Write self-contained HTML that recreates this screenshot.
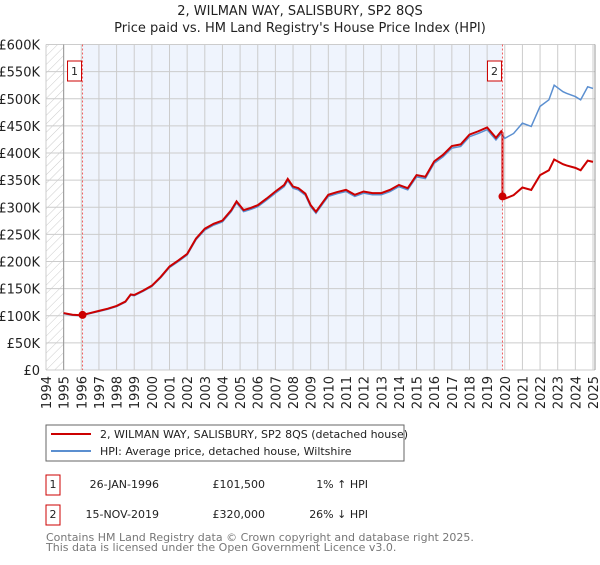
<!DOCTYPE html>
<html><head><meta charset="utf-8"><style>
body{margin:0;background:#fff;font-family:"Liberation Sans","DejaVu Sans",sans-serif;}
svg text{font-family:"DejaVu Sans","Liberation Sans",sans-serif;}
</style></head><body>
<svg id="c" width="600" height="560" xmlns="http://www.w3.org/2000/svg">
<defs><pattern id="hatch" width="6" height="6" patternUnits="userSpaceOnUse" patternTransform="rotate(45)"><line x1="0" y1="0" x2="0" y2="6" stroke="#ccc" stroke-width="1"/></pattern></defs>
<text x="300" y="15" text-anchor="middle" font-size="13" fill="#222">2, WILMAN WAY, SALISBURY, SP2 8QS</text>
<text x="300" y="32" text-anchor="middle" font-size="13" fill="#222">Price paid vs. HM Land Registry's House Price Index (HPI)</text>
<g id="plot"></g>
<g>
<rect x="46" y="425" width="358" height="36" fill="#fff" stroke="#666"/>
<line x1="51" y1="434" x2="91" y2="434" stroke="#cc0000" stroke-width="2"/>
<text x="100" y="438" font-size="11" fill="#222">2, WILMAN WAY, SALISBURY, SP2 8QS (detached house)</text>
<line x1="51" y1="451" x2="91" y2="451" stroke="#5b8fd0" stroke-width="2"/>
<text x="100" y="455" font-size="11" fill="#222">HPI: Average price, detached house, Wiltshire</text>
</g>
<g font-size="11" fill="#222">
<rect x="46" y="475" width="14" height="20" fill="#fff" stroke="#cc0000"/><text x="53" y="488" text-anchor="middle">1</text>
<text x="159" y="488" text-anchor="end">26-JAN-1996</text><text x="265" y="488" text-anchor="end">£101,500</text><text x="368" y="488" text-anchor="end">1% ↑ HPI</text>
<rect x="46" y="505" width="14" height="20" fill="#fff" stroke="#cc0000"/><text x="53" y="518" text-anchor="middle">2</text>
<text x="159" y="518" text-anchor="end">15-NOV-2019</text><text x="265" y="518" text-anchor="end">£320,000</text><text x="368" y="518" text-anchor="end">26% ↓ HPI</text>
</g>
<text x="46" y="541" font-size="11" fill="#777">Contains HM Land Registry data © Crown copyright and database right 2025.</text>
<text x="46" y="551" font-size="11" fill="#777">This data is licensed under the Open Government Licence v3.0.</text>
</svg>
<script>
const hpiYears=[1995,1995.5,1996,1996.5,1997,1997.5,1998,1998.5,1998.8,1999,1999.5,2000,2000.5,2001,2001.5,2002,2002.5,2003,2003.5,2004,2004.5,2004.8,2005.2,2005.6,2006,2006.5,2007,2007.5,2007.7,2008,2008.3,2008.7,2009,2009.3,2009.7,2010,2010.5,2011,2011.5,2012,2012.5,2013,2013.5,2014,2014.5,2015,2015.5,2016,2016.5,2017,2017.5,2018,2018.5,2019,2019.5,2019.8,2020,2020.5,2021,2021.5,2022,2022.5,2022.8,2023.3,2023.5,2024,2024.3,2024.7,2025];
const hpiValues=[104,101,100,104,108,112,117,125,138,137,145,154,170,189,200,212,240,258,267,273,292,308,292,296,301,313,326,338,349,335,332,322,301,289,307,320,325,329,320,326,323,323,329,338,332,356,353,381,393,409,412,430,436,443,424,436,427,436,455,449,486,498,525,513,510,504,498,522,519];
const saleYears=[1996.07,2019.87];
const salePrices=[101.5,320];
const yTicks=[0,50,100,150,200,250,300,350,400,450,500,550,600];
const xTicks=[1994,1995,1996,1997,1998,1999,2000,2001,2002,2003,2004,2005,2006,2007,2008,2009,2010,2011,2012,2013,2014,2015,2016,2017,2018,2019,2020,2021,2022,2023,2024,2025];
const X=y=>46+(y-1994)*(547/31), Y=v=>370-v*(325.5/600);
const NS="http://www.w3.org/2000/svg", g=document.getElementById('plot');
function mk(t,a){const e=document.createElementNS(NS,t);for(const k in a)e.setAttribute(k,a[k]);g.appendChild(e);return e;}
let e;
e=mk('rect',{x:X(1994),y:Y(600),width:X(1995)-X(1994),height:Y(0)-Y(600),fill:'url(#hatch)'});


e=mk('rect',{x:X(saleYears[0]),y:Y(600),width:X(saleYears[1])-X(saleYears[0]),height:Y(0)-Y(600),fill:'#eff4fd'});


yTicks.forEach(v=>{
 e=mk('line',{x1:X(1994),x2:X(2025)+2,y1:Y(v),y2:Y(v),stroke:'#ccc'});
 
 
 e=mk('text',{x:40,y:Y(v)+5,'text-anchor':'end','font-size':13,fill:'#222'});e.textContent='£'+(v?v+'K':'0');
 
 
});
xTicks.forEach(yr=>{
 e=mk('line',{x1:X(yr),x2:X(yr),y1:Y(600),y2:Y(0),stroke:'#ccc'});
 
 
 e=mk('text',{x:0,y:0,'text-anchor':'end','font-size':13,fill:'#222',transform:`translate(${X(yr)+5},376) rotate(-90)`});e.textContent=yr;
 
 
});
e=mk('line',{x1:X(1995),x2:X(1995),y1:Y(600),y2:Y(0),stroke:'#999'});


const hp=hpiYears.map((y,i)=>X(y)+','+Y(hpiValues[i])).join(' ');
e=mk('polyline',{points:hp,fill:'none',stroke:'#5b8fd0','stroke-width':1.5});


function hpiAt(t){for(let i=1;i<hpiYears.length;i++){if(t<=hpiYears[i]){const f=(t-hpiYears[i-1])/(hpiYears[i]-hpiYears[i-1]);return hpiValues[i-1]+f*(hpiValues[i]-hpiValues[i-1]);}}return hpiValues[hpiValues.length-1];}
const r1=salePrices[0]/hpiAt(saleYears[0]), r2=salePrices[1]/hpiAt(saleYears[1]);
let pts=[];
hpiYears.forEach((y,i)=>{if(y<saleYears[1])pts.push([y,hpiValues[i]*r1]);});
pts.push([saleYears[1],hpiAt(saleYears[1])*r1]);
pts.push([saleYears[1],salePrices[1]]);
hpiYears.forEach((y,i)=>{if(y>saleYears[1])pts.push([y,hpiValues[i]*r2]);});
e=mk('polyline',{points:pts.map(p=>X(p[0])+','+Y(p[1])).join(' '),fill:'none',stroke:'#cc0000','stroke-width':2});


saleYears.forEach((y,i)=>{
 e=mk('line',{x1:X(y),x2:X(y),y1:Y(600),y2:Y(0),stroke:'#f06060','stroke-dasharray':'2,2'});
 
 
 e=mk('circle',{cx:X(y),cy:Y(salePrices[i]),r:4,fill:'#cc0000'});
 
 
 e=mk('rect',{x:X(y)-15,y:61,width:14,height:20,fill:'#fff',stroke:'#cc0000'});
 
 
 e=mk('text',{x:X(y)-8,y:75,'text-anchor':'middle','font-size':11,fill:'#222'});e.textContent=i+1;
 
 
});
e=mk('line',{x1:X(2025)+2,x2:X(2025)+2,y1:Y(600),y2:Y(0),stroke:'#999'});


</script>
</body></html>
